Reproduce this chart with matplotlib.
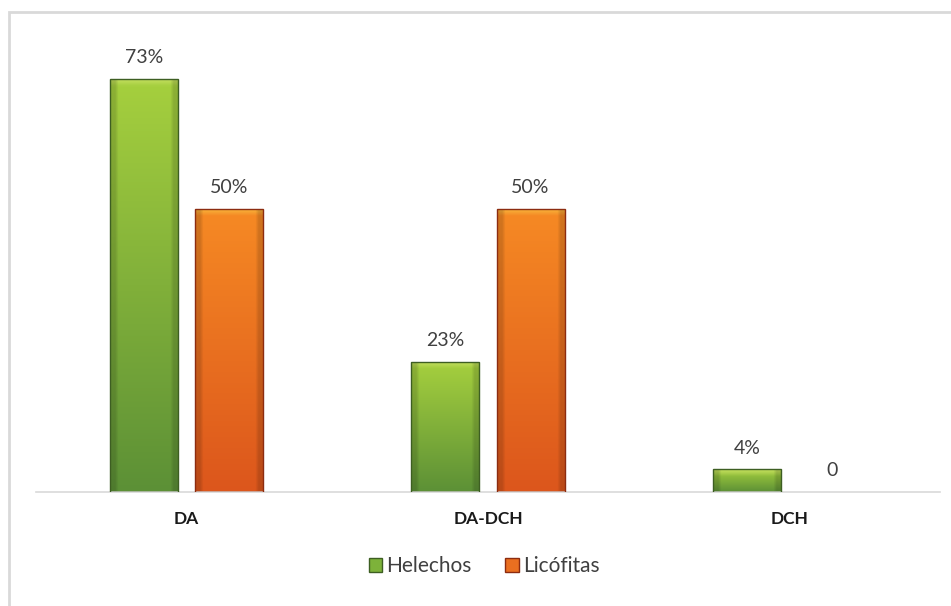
import numpy as np
import matplotlib
matplotlib.use("Agg")
import matplotlib.pyplot as plt
from matplotlib.patches import Rectangle, Patch
from matplotlib.colors import to_rgb

categories = ["DA", "DA-DCH", "DCH"]
helechos = [73, 23, 4]
licofitas = [50, 50, 0]
helechos_labels = ["73%", "23%", "4%"]
licofitas_labels = ["50%", "50%", "0"]

plt.rcParams["font.family"] = ["Lato", "DejaVu Sans"]

# colores degradados (arriba -> abajo) y borde
green = {"top": "#a6d03e", "bottom": "#5c9036", "bevel": "#cde36a", "edge": "#3d5e22"}
orange = {"top": "#f68a24", "bottom": "#dc561c", "bevel": "#f9c445", "edge": "#8c2c10"}


def gradient_bar(ax, x, h, w, col, px_per_unit):
    if h <= 0:
        return
    rect = Rectangle((x - w / 2, 0), w, h, facecolor="none",
                     edgecolor=col["edge"], linewidth=1.0, zorder=3)
    ax.add_patch(rect)
    n = 200
    t = np.linspace(0, 1, n)[:, None]  # 0 = arriba
    top = np.array(to_rgb(col["top"]))
    bot = np.array(to_rgb(col["bottom"]))
    img = top * (1 - t) + bot * t
    # biselado superior (unos 7 px)
    bevel = 7 / px_per_unit / h
    bev = np.array(to_rgb(col["bevel"]))
    mask = t[:, 0] < bevel
    k = (1 - t[mask, 0] / bevel)[:, None]
    img[mask] = img[mask] * (1 - 0.8 * k) + bev * 0.8 * k
    img = np.repeat(img[:, None, :], 20, axis=1)
    # bordes laterales un poco mas oscuros
    img[:, :2, :] *= 0.85
    img[:, -2:, :] *= 0.85
    im = ax.imshow(img, extent=(x - w / 2, x + w / 2, 0, h), aspect="auto",
                   origin="upper", zorder=2, interpolation="bilinear")
    im.set_clip_path(rect)


fig = plt.figure(figsize=(9.51, 6.06), dpi=100)
ax = fig.add_axes([36 / 951, (606 - 492) / 606, (940 - 36) / 951, (492 - 39) / 606])

ymax = 80
ax.set_xlim(-0.5, 2.5)
ax.set_ylim(0, ymax)
px_per_unit = (492 - 39) / ymax

width = 0.226
offset = 0.1414
xs = np.arange(len(categories))

for i in xs:
    gradient_bar(ax, i - offset, helechos[i], width, green, px_per_unit)
    gradient_bar(ax, i + offset, licofitas[i], width, orange, px_per_unit)
    ax.annotate(helechos_labels[i], (i - offset, helechos[i]), xytext=(0, 9),
                textcoords="offset points", ha="center", va="bottom",
                fontsize=14, color="#404040")
    ax.annotate(licofitas_labels[i], (i + offset, licofitas[i]), xytext=(0, 9),
                textcoords="offset points", ha="center", va="bottom",
                fontsize=14, color="#404040")

for s in ["top", "right", "left"]:
    ax.spines[s].set_visible(False)
ax.spines["bottom"].set_color("#d9d9d9")
ax.spines["bottom"].set_linewidth(1.2)
ax.set_yticks([])
ax.set_xticks(xs)
ax.set_xticklabels(categories, fontsize=12.5, fontweight="bold", color="#1a1a1a")
ax.tick_params(axis="x", length=0, pad=14)

handles = [Patch(facecolor="#7db23a", edgecolor=green["edge"]),
           Patch(facecolor="#ea6f20", edgecolor=orange["edge"])]
fig.legend(handles, ["Helechos", "Licófitas"], loc="center",
           bbox_to_anchor=(484 / 951, 1 - 566 / 606), ncol=2, frameon=False,
           fontsize=15, handlelength=0.65, handleheight=0.65,
           handletextpad=0.2, columnspacing=1.6, labelcolor="#404040")

# marco del grafico
fig.patches.append(Rectangle((9 / 951, -0.1), 1.2, 1 - 12 / 606 + 0.1,
                             transform=fig.transFigure, fill=False,
                             edgecolor="#d9d9d9", linewidth=2.0))

fig.savefig("out.png", dpi=100)
